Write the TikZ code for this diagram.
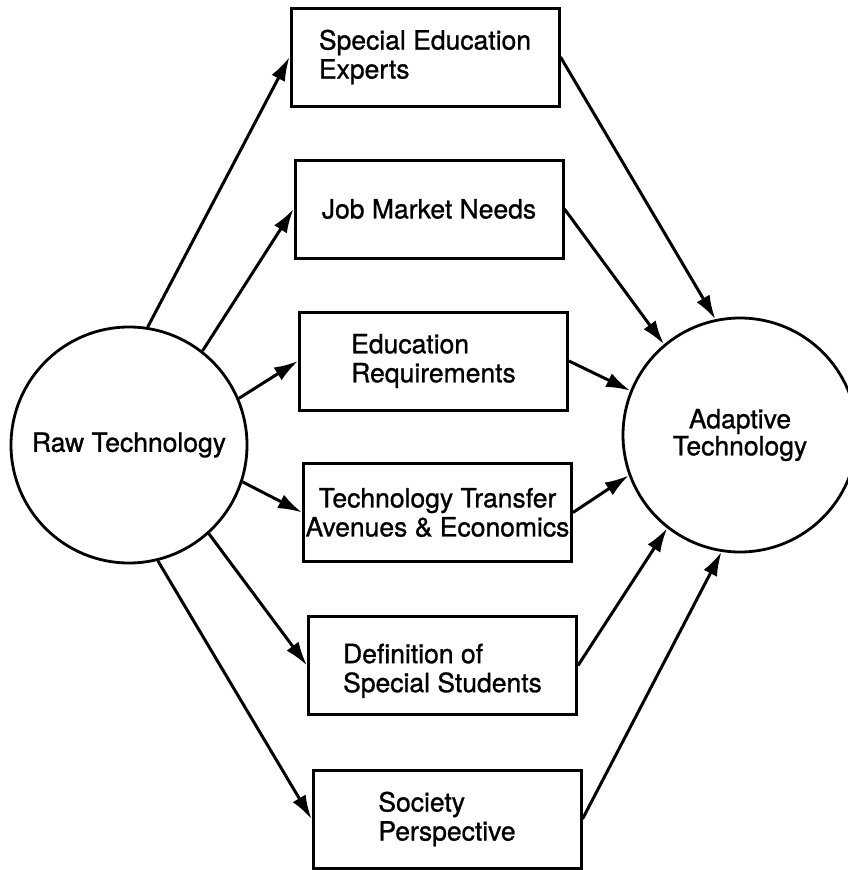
\documentclass[tikz,border=0pt]{standalone}
\usepackage{fontspec}
\setmainfont[FakeBold=1]{TeX Gyre Heros}
\usetikzlibrary{arrows.meta}
\begin{document}
\begin{tikzpicture}[x=1pt,y=-1pt,
  every node/.style={font=\fontsize{26.5}{29}\selectfont},
  factor/.style={draw, line width=3pt, minimum width=268pt, minimum height=98pt, inner sep=0pt},
  tech/.style={draw, circle, line width=2.8pt, minimum size=236pt, inner sep=0pt, align=center},
  link/.style={line width=3pt, -{Latex[length=24pt,width=15pt]}}]
\useasboundingbox (0,0) rectangle (848,870);
\clip (0,0) rectangle (848,870);
\node[tech] (raw) at (129,445) {Raw Technology};
\node[tech, minimum size=234pt, font=\fontsize{26.5}{27}\selectfont] (adapt) at (740,435) {Adaptive\\Technology};
\node[factor, align=left] (b1) at (425,57) {Special Education\\Experts};
\node[factor] (b2) at (429,209) {Job Market Needs};
\node[factor, align=left] (b3) at (433.5,361) {Education\\Requirements};
\node[factor, align=center] (b4) at (437.5,512.5) {Technology Transfer\\Avenues \& Economics};
\node[factor, align=left] (b5) at (442.5,665.5) {\rule{0pt}{30pt}Definition of\\Special Students};
\node[factor, align=left] (b6) at (447,819) {Society\\Perspective};
\draw[link] (raw.81) -- (b1.west);
\draw[link] (raw.52) -- (b2.west);
\draw[link] (raw.23) -- (b3.west);
\draw[link] (raw.-18) -- (b4.west);
\draw[link] (raw.-48) -- (b5.west);
\draw[link] (raw.-76) -- (b6.west);
\draw[link] (b1.east) -- (adapt.102);
\draw[link] (b2.east) -- (adapt.130);
\draw[link] (b3.east) -- (adapt.158);
\draw[link] (b4.east) -- (adapt.200);
\draw[link] (b5.east) -- (adapt.232);
\draw[link] (b6.east) -- (adapt.261);
\end{tikzpicture}
\end{document}
